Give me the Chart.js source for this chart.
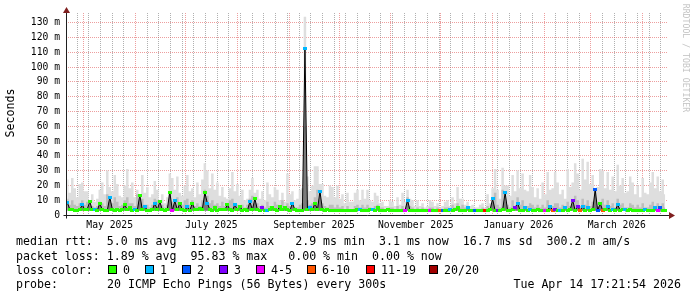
<!DOCTYPE html>
<html>
<head>
<meta charset="utf-8">
<title>median rtt</title>
<script src="https://cdn.jsdelivr.net/npm/chart.js@4.4.1/dist/chart.umd.min.js"></script>
<style>
  body { margin: 0; background: #fff; }
  #wrap { position: relative; width: 697px; height: 297px; overflow: hidden; }
  #chart { position: absolute; left: 0; top: 0; }
  .txt {
    position: absolute;
    font-family: "DejaVu Sans Mono", monospace;
    font-size: 11.6px;
    line-height: 14px;
    white-space: pre;
    color: #000;
  }
  .box { position: absolute; width: 7px; height: 7px; border: 1px solid #000; }
</style>
</head>
<body>
<div id="wrap">
  <canvas id="chart" width="697" height="297"></canvas>
</div>
<script>
// ---- data (values in milliseconds) ----
// one slot = 1.5 days, first slot centred on 20 Apr 2025
const slotStart = -9.95;   // days relative to 1 May 2025
const slotDays = 1.5;

// top of the light smoke (slowest pings)
const smokeTop = [
  24, 15, 25, 18, 12, 21, 22, 16, 16, 10, 14, 9, 11, 17, 22, 14, 30, 19, 16, 27,
  21, 13, 12, 20, 31, 18, 22, 12, 17, 11, 27, 15, 19, 12, 14, 23, 17, 10, 14, 8,
  12, 28, 25, 17, 26, 15, 13, 20, 27, 16, 18, 12, 22, 14, 24, 35, 30, 18, 28, 17,
  22, 13, 19, 12, 11, 18, 29, 16, 21, 13, 17, 10, 11, 17, 25, 15, 17, 11, 16, 10,
  22, 14, 12, 19, 17, 10, 15, 9, 28, 14, 16, 10, 11, 17, 18, 134, 26, 16, 20, 33,
  33, 21, 21, 13, 12, 20, 19, 12, 20, 11, 14, 8, 15, 9, 9, 15, 17, 10, 17, 11,
  17, 10, 9, 15, 13, 8, 9, 6, 6, 10, 9, 6, 12, 7, 15, 9, 17, 11, 10, 6,
  10, 6, 8, 5, 6, 10, 9, 6, 8, 5, 6, 9, 10, 6, 12, 8, 19, 11, 11, 7,
  9, 6, 7, 5, 5, 7, 8, 5, 14, 8, 18, 31, 17, 11, 32, 20, 20, 13, 27, 16,
  30, 18, 28, 17, 16, 27, 19, 12, 18, 11, 22, 14, 29, 17, 18, 29, 22, 14, 17, 11,
  31, 19, 22, 35, 28, 17, 38, 24, 36, 21, 27, 16, 19, 31, 30, 18, 29, 17, 26, 16,
  34, 20, 25, 15, 16, 26, 22, 14, 20, 12, 25, 15, 14, 22, 29, 18, 26, 16, 24, 14
];

// top of the dense (darker) smoke
const smokeMid = [
  11, 7, 10, 7, 6, 8, 10, 7, 9, 6, 6, 5, 6, 9, 8, 6, 14, 9, 8, 12,
  9, 6, 7, 10, 12, 8, 8, 6, 14, 8, 11, 7, 7, 5, 7, 11, 10, 6, 7, 5,
  7, 15, 9, 7, 12, 8, 7, 10, 11, 7, 10, 6, 8, 6, 10, 17, 13, 8, 10, 7,
  8, 6, 9, 6, 6, 10, 11, 7, 7, 5, 7, 5, 7, 11, 13, 8, 8, 6, 7, 5,
  9, 6, 6, 9, 7, 5, 10, 6, 8, 6, 7, 5, 5, 7, 8, 60, 10, 7, 8, 12,
  17, 10, 8, 6, 5, 7, 7, 5, 7, 5, 6, 4, 6, 4, 4, 6, 7, 5, 7, 5,
  7, 5, 4, 6, 7, 5, 5, 4, 4, 5, 5, 4, 6, 4, 6, 4, 12, 6, 5, 4,
  5, 4, 5, 4, 4, 5, 5, 4, 5, 4, 4, 5, 5, 4, 7, 5, 8, 5, 7, 5,
  5, 4, 4, 4, 4, 4, 5, 4, 6, 4, 8, 15, 7, 5, 17, 9, 7, 5, 10, 6,
  12, 7, 10, 6, 6, 8, 7, 5, 7, 5, 7, 5, 10, 6, 6, 8, 8, 5, 7, 5,
  9, 6, 7, 13, 10, 6, 11, 7, 10, 6, 9, 18, 6, 8, 11, 7, 10, 6, 8, 5,
  11, 7, 8, 5, 5, 8, 7, 5, 7, 5, 8, 5, 5, 7, 9, 6, 8, 5, 8, 5
];

// median round trip time
const medianRtt = [
  8.5, 4, 4, 3, 3, 3.5, 7, 3.5, 4, 9, 3.5, 3.5, 3, 8, 3.5, 3, 3, 12, 4, 3,
  4, 3, 3.5, 7, 3.5, 5, 3, 3.5, 3, 13.5, 3.5, 6, 3, 3, 3.5, 8, 3.5, 9, 3.5, 3,
  4, 15.5, 3, 9.5, 3.5, 8, 3.5, 3, 6, 3, 8, 3.5, 4, 4.5, 4, 15, 8, 3.5, 3, 5,
  3, 3.5, 4, 3.5, 7, 3.5, 3, 7, 3.5, 6, 3, 3.5, 3, 9, 3.5, 11, 3.5, 3, 5, 3,
  3, 3.5, 5, 3.5, 3, 6, 3.5, 5, 3.5, 3, 8, 3.5, 3, 3, 3, 112.3, 3.5, 5, 3.5, 8,
  3.5, 16, 3.5, 3, 4, 3, 3, 3, 3, 3, 3, 3, 3, 3, 3, 3, 3.5, 4, 3, 3,
  3, 3.5, 4, 3, 5, 3, 3, 3, 3.5, 3, 3, 3, 3, 3, 3, 3, 10, 3, 3, 3,
  3, 3, 3, 3, 3, 3, 3, 3, 3, 3, 3, 3, 3, 3.5, 3, 3.5, 5, 3, 3, 3,
  5, 3, 3, 3, 3, 3, 3, 3, 3, 3.5, 11, 3, 3, 3, 3.5, 15, 3, 3, 3.5, 5,
  8, 3, 3, 5, 3, 4, 3, 3, 3.5, 3, 3, 3, 3, 6, 3, 4, 3, 3, 3, 5,
  3, 3.5, 10, 3, 6, 3, 6, 3, 5, 3, 3.5, 17, 3, 8, 3, 3.5, 6, 3, 4, 3,
  7, 3, 3.5, 4, 3, 3.5, 3, 3, 3, 3, 3, 4, 3, 3, 3, 5, 3, 5, 3, 3
];

// loss colour class per slot (index into lossLabels)
const lossClass = [
  1, 0, 0, 0, 0, 0, 1, 0, 0, 0, 0, 1, 0, 0, 0, 0, 0, 1, 0, 0,
  0, 0, 0, 0, 0, 0, 0, 1, 0, 0, 0, 1, 0, 0, 0, 1, 0, 0, 0, 0,
  0, 0, 4, 1, 0, 0, 0, 0, 1, 0, 0, 0, 0, 0, 0, 0, 1, 0, 0, 0,
  0, 0, 0, 0, 0, 0, 0, 1, 0, 0, 0, 0, 0, 1, 0, 0, 0, 0, 3, 0,
  1, 0, 0, 0, 0, 0, 0, 0, 0, 0, 1, 0, 0, 0, 0, 1, 0, 1, 0, 0,
  0, 1, 0, 0, 0, 0, 0, 0, 0, 0, 0, 0, 0, 0, 0, 0, 0, 1, 0, 0,
  0, 0, 1, 0, 0, 0, 0, 0, 0, 0, 0, 0, 0, 0, 0, 4, 1, 0, 0, 0,
  0, 0, 0, 0, 0, 4, 0, 0, 0, 5, 2, 0, 0, 1, 0, 0, 0, 0, 0, 0,
  1, 0, 0, 2, 0, 0, 0, 6, 0, 0, 1, 0, 3, 0, 0, 1, 0, 0, 0, 3,
  1, 0, 0, 1, 0, 1, 0, 0, 0, 0, 0, 4, 0, 1, 5, 3, 0, 1, 0, 1,
  0, 0, 3, 0, 3, 5, 1, 0, 1, 0, 0, 2, 2, 0, 5, 0, 1, 0, 1, 0,
  1, 0, 0, 1, 0, 0, 0, 0, 0, 0, 0, 1, 0, 0, 0, 1, 4, 2, 0, 0
];

const minRtt = 2.9;
const lossLabels = ['0', '1', '2', '3', '4-5', '6-10', '11-19', '20/20'];
const lossColors = ['#26ff00', '#00b8ff', '#0059ff', '#7e00ff', '#ee00ff', '#ff5500', '#ff0000', '#a10000'];

const monthLabels = ['May 2025', 'July 2025', 'September 2025', 'November 2025', 'January 2026', 'March 2026'];
const yTickValues = [0, 5, 10, 15, 20, 25, 30, 35, 40, 45, 50, 55, 60, 65,
  70, 75, 80, 85, 90, 95, 100, 105, 110, 115, 120, 125, 130, 135];

const legendLines = [
  'median rtt:  5.0 ms avg  112.3 ms max   2.9 ms min  3.1 ms now  16.7 ms sd  300.2 m am/s',
  'packet loss: 1.89 % avg  95.83 % max   0.00 % min  0.00 % now'
];
const probeText = '20 ICMP Echo Pings (56 Bytes) every 300s';
const stampText = 'Tue Apr 14 17:21:54 2026';

// ---- time axis helpers ----
const epoch = Date.UTC(2025, 4, 1);
const dayOf = (y, m, d) => (Date.UTC(y, m - 1, d) - epoch) / 864e5;
const xMin = -10.7;
const xMax = 350.2;

const monthStarts = [];
for (let k = 0; k < 13; k++) {
  const y = 2025 + Math.floor((4 + k) / 12);
  const m = ((4 + k) % 12) + 1;
  monthStarts.push(dayOf(y, m, 1));
}
const weekLines = [];
for (let d = dayOf(2025, 4, 27); d <= xMax; d += 7) weekLines.push(d);

// label sits in the middle of every second month
const labelAt = new Map();
monthLabels.forEach((txt, k) => {
  const mid = (monthStarts[2 * k] + monthStarts[2 * k + 1]) / 2;
  labelAt.set(mid, txt);
});

const monthSet = new Set(monthStarts);
const weekSet = new Set(weekLines);
const xTickValues = [...new Set([...weekLines, ...monthStarts, ...labelAt.keys()])]
  .filter(v => v >= xMin && v <= xMax)
  .sort((a, b) => a - b);

const GRID = 'rgba(143,143,143,0.7)';
const MGRID = 'rgba(222,79,79,0.55)';

const slotX = i => slotStart + i * slotDays;
const asPoints = arr => arr.map((v, i) => ({ x: slotX(i), y: v }));

// small colour blocks used as point markers on the median
const lossMarkers = lossColors.map(c => {
  const cv = document.createElement('canvas');
  cv.width = 4;
  cv.height = 3;
  const g = cv.getContext('2d');
  g.fillStyle = c;
  g.fillRect(0, 0, 4, 3);
  return cv;
});

// axis lines with rrdtool style arrows
const axisPlugin = {
  id: 'rrdAxes',
  afterDraw(chart) {
    const { ctx, chartArea } = chart;
    const x0 = Math.round(chartArea.left) + 0.5;
    const y0 = Math.round(chartArea.bottom) + 0.5;
    ctx.save();
    ctx.strokeStyle = '#1f1f1f';
    ctx.lineWidth = 1;
    ctx.beginPath();
    ctx.moveTo(x0 - 3, y0);
    ctx.lineTo(chartArea.right + 4, y0);
    ctx.moveTo(x0, y0 + 3);
    ctx.lineTo(x0, chartArea.top - 3);
    ctx.stroke();
    ctx.fillStyle = '#7f1f1f';
    ctx.beginPath();
    ctx.moveTo(chartArea.right + 7, y0);
    ctx.lineTo(chartArea.right + 1, y0 - 3.5);
    ctx.lineTo(chartArea.right + 1, y0 + 3.5);
    ctx.closePath();
    ctx.fill();
    ctx.beginPath();
    ctx.moveTo(x0, chartArea.top - 6);
    ctx.lineTo(x0 - 3.5, chartArea.top);
    ctx.lineTo(x0 + 3.5, chartArea.top);
    ctx.closePath();
    ctx.fill();
    ctx.restore();
  }
};

Chart.defaults.font.family = '"DejaVu Sans Mono", monospace';
Chart.defaults.color = '#000';

// smoke drawn as stepped areas filled down to the fastest ping
const smokeArea = {
  stepped: 'middle',
  borderWidth: 0,
  borderColor: 'rgba(0,0,0,0)',
  pointRadius: 0,
  fill: { value: minRtt }
};

const chart = new Chart(document.getElementById('chart'), {
  type: 'line',
  data: {
    datasets: [
      Object.assign({
        label: 'smoke',
        data: asPoints(smokeTop),
        backgroundColor: '#dedede',
        order: 4
      }, smokeArea),
      Object.assign({
        label: 'dense smoke',
        data: asPoints(smokeMid),
        backgroundColor: '#bdbdbd',
        order: 3
      }, smokeArea),
      {
        label: 'median rtt',
        data: asPoints(medianRtt),
        borderColor: '#000',
        backgroundColor: 'rgba(70,70,70,0.55)',
        borderWidth: 1,
        pointRadius: 0,
        tension: 0,
        fill: { value: minRtt },
        order: 2
      },
      {
        label: 'loss color',
        data: asPoints(medianRtt),
        showLine: false,
        fill: false,
        pointRadius: 2,
        pointStyle: c => lossMarkers[lossClass[c.dataIndex]],
        order: 1
      }
    ]
  },
  options: {
    responsive: false,
    animation: false,
    devicePixelRatio: 1,
    layout: { padding: { left: 0, top: 13, right: 29, bottom: 0 } },
    plugins: { legend: { display: false }, tooltip: { enabled: false } },
    scales: {
      x: {
        type: 'linear',
        min: xMin,
        max: xMax,
        offset: false,
        z: 1,
        afterBuildTicks: axis => { axis.ticks = xTickValues.map(v => ({ value: v })); },
        afterFit: axis => { axis.height = 82; },
        ticks: {
          autoSkip: false,
          maxRotation: 0,
          padding: 5,
          font: { size: 9.7 },
          callback: v => labelAt.get(v) || ''
        },
        grid: {
          offset: false,
          drawTicks: false,
          lineWidth: 1,
          color: c => {
            const v = c.tick && c.tick.value;
            if (monthSet.has(v)) return MGRID;
            if (weekSet.has(v)) return GRID;
            return 'rgba(0,0,0,0)';
          }
        },
        border: { display: false, dash: [1, 1] }
      },
      y: {
        type: 'linear',
        min: 0,
        max: 136.5,
        z: 1,
        afterBuildTicks: axis => { axis.ticks = yTickValues.map(v => ({ value: v })); },
        afterFit: axis => { axis.width = 66; },
        ticks: {
          padding: 6,
          font: { size: 9.7 },
          callback: v => (v % 10 !== 0 ? '' : (v === 0 ? '0' : v + ' m'))
        },
        grid: {
          drawTicks: false,
          lineWidth: 1,
          color: c => {
            const v = c.tick && c.tick.value;
            if (v === 0) return 'rgba(0,0,0,0)';
            return v % 10 === 0 ? MGRID : GRID;
          }
        },
        border: { display: false, dash: [1, 1] }
      }
    }
  },
  plugins: [axisPlugin]
});

// ---- text around the graph ----
const wrap = document.getElementById('wrap');
function addText(txt, left, top, extra) {
  const d = document.createElement('div');
  d.className = 'txt';
  d.textContent = txt;
  d.style.left = left + 'px';
  d.style.top = top + 'px';
  if (extra) Object.assign(d.style, extra);
  wrap.appendChild(d);
  return d;
}

addText('Seconds', -22, 106, { width: '64px', textAlign: 'center', transform: 'rotate(-90deg)' });
addText('RRDTOOL / TOBI OETIKER', 626, 53, {
  width: '120px', textAlign: 'center', fontSize: '8.2px', lineHeight: '10px',
  color: '#c4c4c4', transform: 'rotate(90deg)'
});

addText(legendLines[0], 16, 234);
addText(legendLines[1], 16, 249);
addText('loss color:', 16, 263);
addText('probe:', 16, 277);
addText(probeText, 107, 277);
addText(stampText, 0, 277, { left: 'auto', right: '16px' });

const boxLeft = [108, 145, 182, 219, 256, 307, 366, 429];
lossLabels.forEach((lbl, k) => {
  const b = document.createElement('div');
  b.className = 'box';
  b.style.left = boxLeft[k] + 'px';
  b.style.top = '265px';
  b.style.background = lossColors[k];
  wrap.appendChild(b);
  addText(lbl, boxLeft[k] + 15, 263);
});
</script>
</body>
</html>
